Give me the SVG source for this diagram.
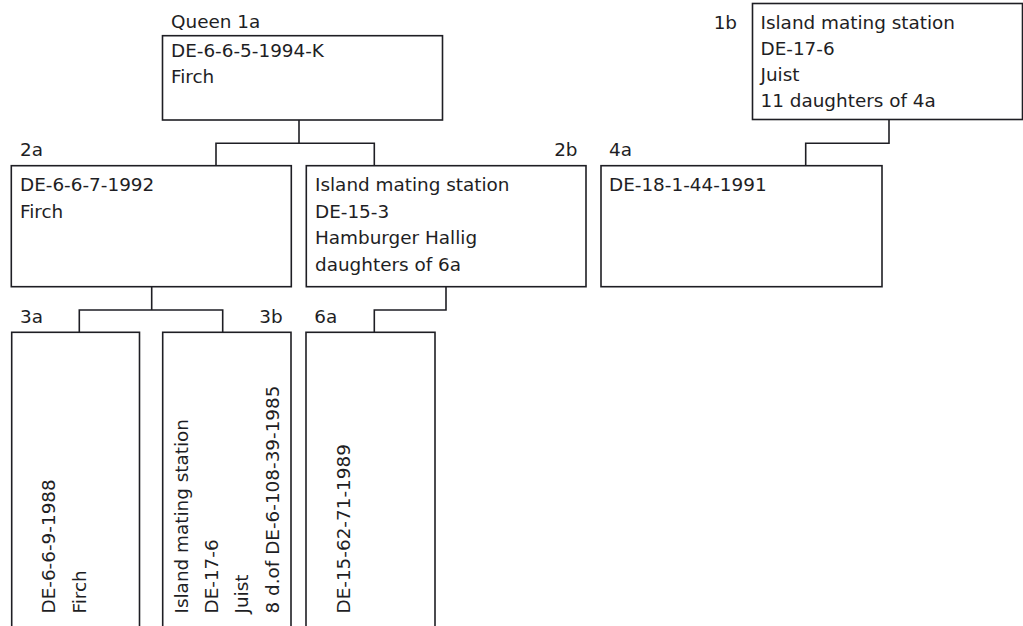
<svg xmlns="http://www.w3.org/2000/svg" width="1023" height="626" viewBox="0 0 1023 626">
<style>
.box{fill:#fff;stroke:#1e1e24;stroke-width:1.6}
.con{fill:none;stroke:#1e1e24;stroke-width:1.6}
text{font-family:"DejaVu Sans",sans-serif;font-size:18.4px;fill:#1e1e24}
.end{text-anchor:end}
</style>
<rect width="1023" height="626" fill="#fff"/>
<g id="connectors">
<path class="con" d="M299 120V143.3M216 165.7V143.3H374.3V165.7"/>
<path class="con" d="M889 119.5V143.3H805.7V165.7"/>
<path class="con" d="M151.7 286.7V310M79.3 332.3V310H222.7V332.3"/>
<path class="con" d="M446 286.7V310H374.3V332.3"/>
</g>
<g id="n1a">
<text x="171" y="28.3">Queen 1a</text>
<rect class="box" x="162.5" y="35.7" width="280" height="84.3"/>
<text x="171" y="56.7">DE-6-6-5-1994-K</text>
<text x="171" y="83.3">Firch</text>
</g>
<g id="n1b">
<text class="end" x="737" y="29.3">1b</text>
<rect class="box" x="752.5" y="3.5" width="270" height="116"/>
<text x="760.5" y="29.3">Island mating station</text>
<text x="760.5" y="55.3">DE-17-6</text>
<text x="760.5" y="81.3">Juist</text>
<text x="760.5" y="107.3">11 daughters of 4a</text>
</g>
<g id="n2a">
<text x="20" y="156">2a</text>
<rect class="box" x="11.3" y="165.7" width="280" height="121"/>
<text x="20" y="191">DE-6-6-7-1992</text>
<text x="20" y="217.6">Firch</text>
</g>
<g id="n2b">
<text class="end" x="577.5" y="156">2b</text>
<rect class="box" x="306.3" y="165.7" width="279.7" height="121"/>
<text x="315" y="191">Island mating station</text>
<text x="315" y="217.5">DE-15-3</text>
<text x="315" y="244">Hamburger Hallig</text>
<text x="315" y="270.5">daughters of 6a</text>
</g>
<g id="n4a">
<text x="609" y="156">4a</text>
<rect class="box" x="601" y="165.7" width="281" height="121"/>
<text x="609" y="191">DE-18-1-44-1991</text>
</g>
<g id="n3a">
<text x="20" y="322.7">3a</text>
<rect class="box" x="11.7" y="332.3" width="127.8" height="310"/>
<text transform="translate(55 613.5) rotate(-90)">DE-6-6-9-1988</text>
<text transform="translate(86 613.5) rotate(-90)">Firch</text>
</g>
<g id="n3b">
<text class="end" x="282.7" y="322.7">3b</text>
<rect class="box" x="162.7" y="332.3" width="128.3" height="310"/>
<text transform="translate(187.5 613.5) rotate(-90)">Island mating station</text>
<text transform="translate(217.5 613.5) rotate(-90)">DE-17-6</text>
<text transform="translate(248 613.5) rotate(-90)">Juist</text>
<text transform="translate(279 613.5) rotate(-90)">8 d.of DE-6-108-39-1985</text>
</g>
<g id="n6a">
<text x="314.3" y="322.7">6a</text>
<rect class="box" x="306" y="332.3" width="129" height="310"/>
<text transform="translate(350 613.5) rotate(-90)">DE-15-62-71-1989</text>
</g>
</svg>
